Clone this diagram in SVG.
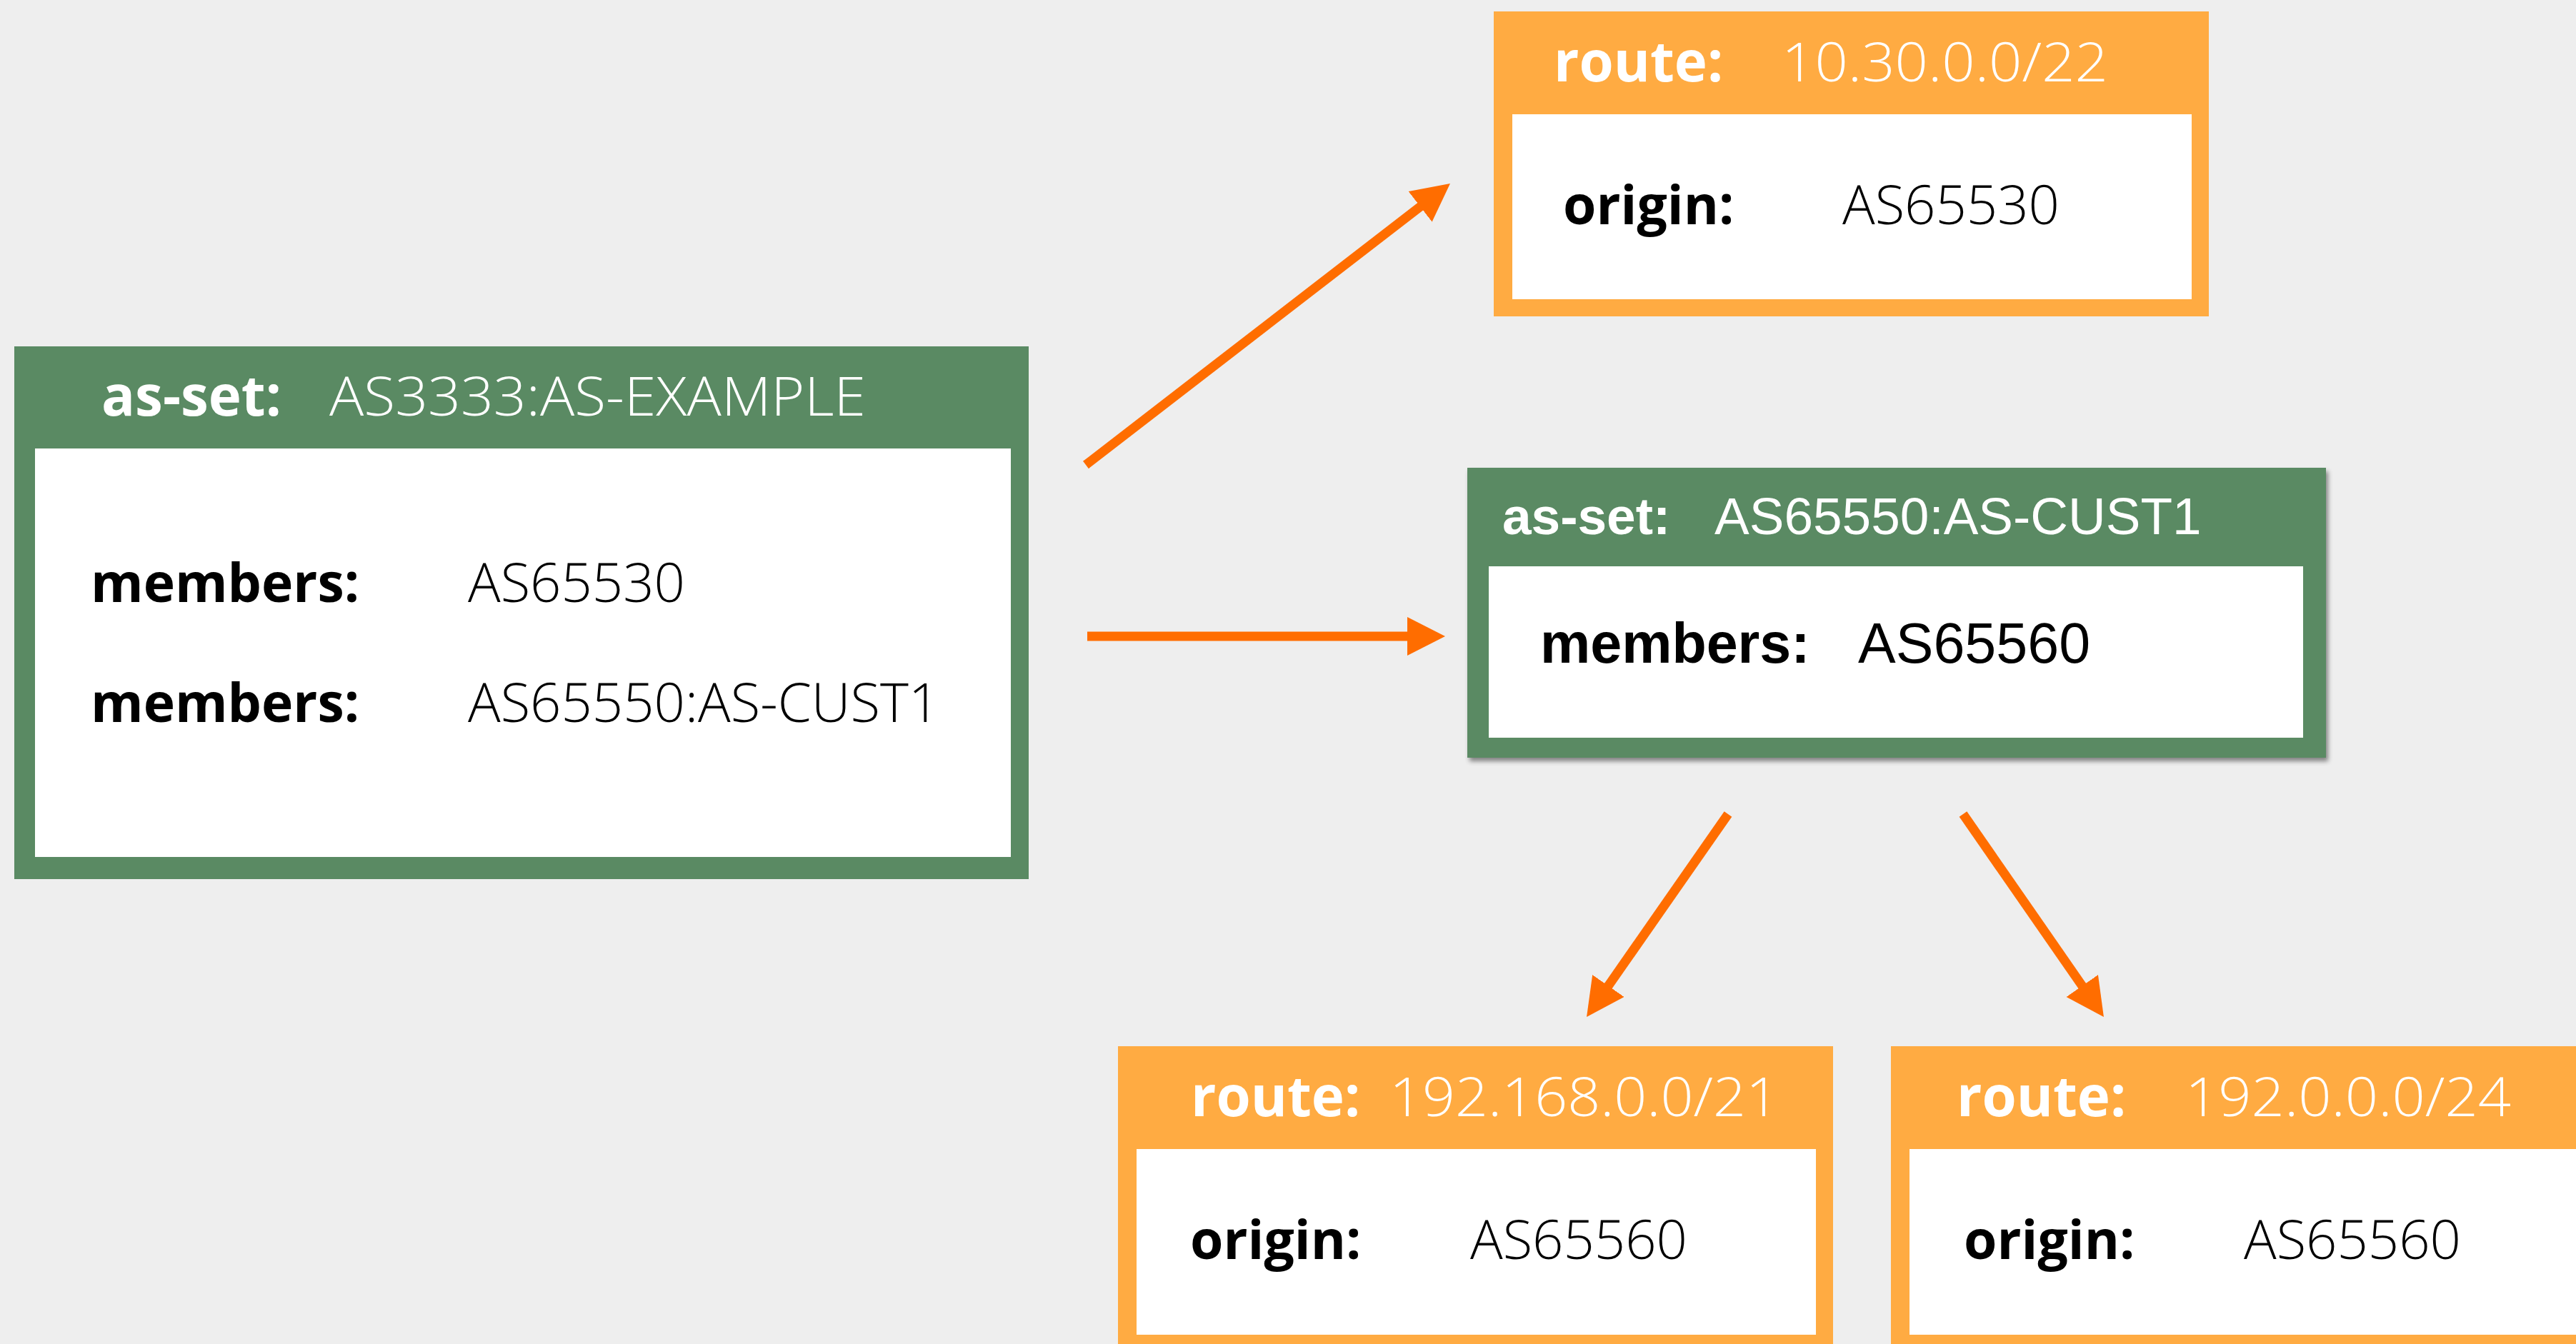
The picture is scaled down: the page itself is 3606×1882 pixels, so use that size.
<svg xmlns="http://www.w3.org/2000/svg" width="3606" height="1882" viewBox="0 0 3606 1882">
<defs>
<style>
.green{fill:#5a8a63}
.orange{fill:#ffab42}
.white{fill:#ffffff}
.os{font-family:"Open Sans","Liberation Sans",sans-serif;font-size:75px}
.hd{font-size:78px}
.hv{font-size:76px;font-weight:300}
.ar{font-family:"Liberation Sans",Arial,sans-serif}
.b{font-weight:700}
.l{font-weight:300;font-size:76px}
.hw{fill:#ffffff}
.bk{fill:#000000}
.conn{stroke:#ff6d00;stroke-width:13;fill:none;stroke-linecap:butt}
</style>
<marker id="ah" markerUnits="userSpaceOnUse" markerWidth="54" markerHeight="56" refX="5" refY="27" orient="auto" viewBox="0 0 54 56">
<path d="M0,0 L53,27 L0,54 z" fill="#ff6d00"/>
</marker>
<filter id="sh" x="-5%" y="-5%" width="110%" height="115%">
<feDropShadow dx="3" dy="5" stdDeviation="3" flood-color="#000" flood-opacity="0.45"/>
</filter>
</defs>
<rect x="0" y="0" width="3606" height="1882" fill="#eeeeee"/>

<g id="connectors">
<line class="conn" x1="1520" y1="651" x2="1992" y2="286.3" marker-end="url(#ah)"/>
<line class="conn" x1="1522" y1="891" x2="1975" y2="891" marker-end="url(#ah)"/>
<line class="conn" x1="2419" y1="1140" x2="2248.5" y2="1384.6" marker-end="url(#ah)"/>
<line class="conn" x1="2748" y1="1140" x2="2917.6" y2="1384.6" marker-end="url(#ah)"/>
</g>

<g id="asset-example">
<rect class="green" x="20" y="485" width="1420" height="746"/>
<rect class="white" x="49" y="628" width="1366" height="572"/>
<text class="os b hd hw" x="142" y="582">as-set:</text>
<text class="os hv hw" x="461" y="582" textLength="751" lengthAdjust="spacingAndGlyphs">AS3333:AS-EXAMPLE</text>
<text class="os b bk" x="127" y="843">members:</text>
<text class="os l bk" x="655" y="843">AS65530</text>
<text class="os b bk" x="127" y="1011">members:</text>
<text class="os l bk" x="655" y="1011">AS65550:AS-CUST1</text>
</g>

<g id="route-10-30">
<rect class="orange" x="2091" y="16" width="1001" height="427"/>
<rect class="white" x="2117" y="160" width="951" height="259"/>
<text class="os b hd hw" x="2175" y="114">route:</text>
<text class="os hv hw" x="2494" y="114" textLength="457" lengthAdjust="spacingAndGlyphs">10.30.0.0/22</text>
<text class="os b bk" x="2188" y="314">origin:</text>
<text class="os l bk" x="2579" y="314">AS65530</text>
</g>

<g id="asset-cust1">
<rect class="green" x="2054" y="655" width="1202" height="406" filter="url(#sh)"/>
<rect class="white" x="2084" y="793" width="1140" height="240"/>
<text class="ar b hw" x="2103" y="748" font-size="73">as-set:</text>
<text class="ar hw" x="2400" y="748" font-size="73">AS65550:AS-CUST1</text>
<text class="ar b bk" x="2156" y="928" font-size="79">members:</text>
<text class="ar bk" x="2601" y="928" font-size="79">AS65560</text>
</g>

<g id="route-192-168">
<rect class="orange" x="1565" y="1465" width="1001" height="440"/>
<rect class="white" x="1591" y="1609" width="951" height="260"/>
<text class="os b hd hw" x="1667" y="1563">route:</text>
<text class="os hv hw" x="1945" y="1563" textLength="545" lengthAdjust="spacingAndGlyphs">192.168.0.0/21</text>
<text class="os b bk" x="1666" y="1763">origin:</text>
<text class="os l bk" x="2058" y="1763">AS65560</text>
</g>

<g id="route-192-0">
<rect class="orange" x="2647" y="1465" width="1000" height="440"/>
<rect class="white" x="2673" y="1609" width="960" height="260"/>
<text class="os b hd hw" x="2739" y="1563">route:</text>
<text class="os hv hw" x="3059" y="1563" textLength="456" lengthAdjust="spacingAndGlyphs">192.0.0.0/24</text>
<text class="os b bk" x="2749" y="1763">origin:</text>
<text class="os l bk" x="3141" y="1763">AS65560</text>
</g>
</svg>
